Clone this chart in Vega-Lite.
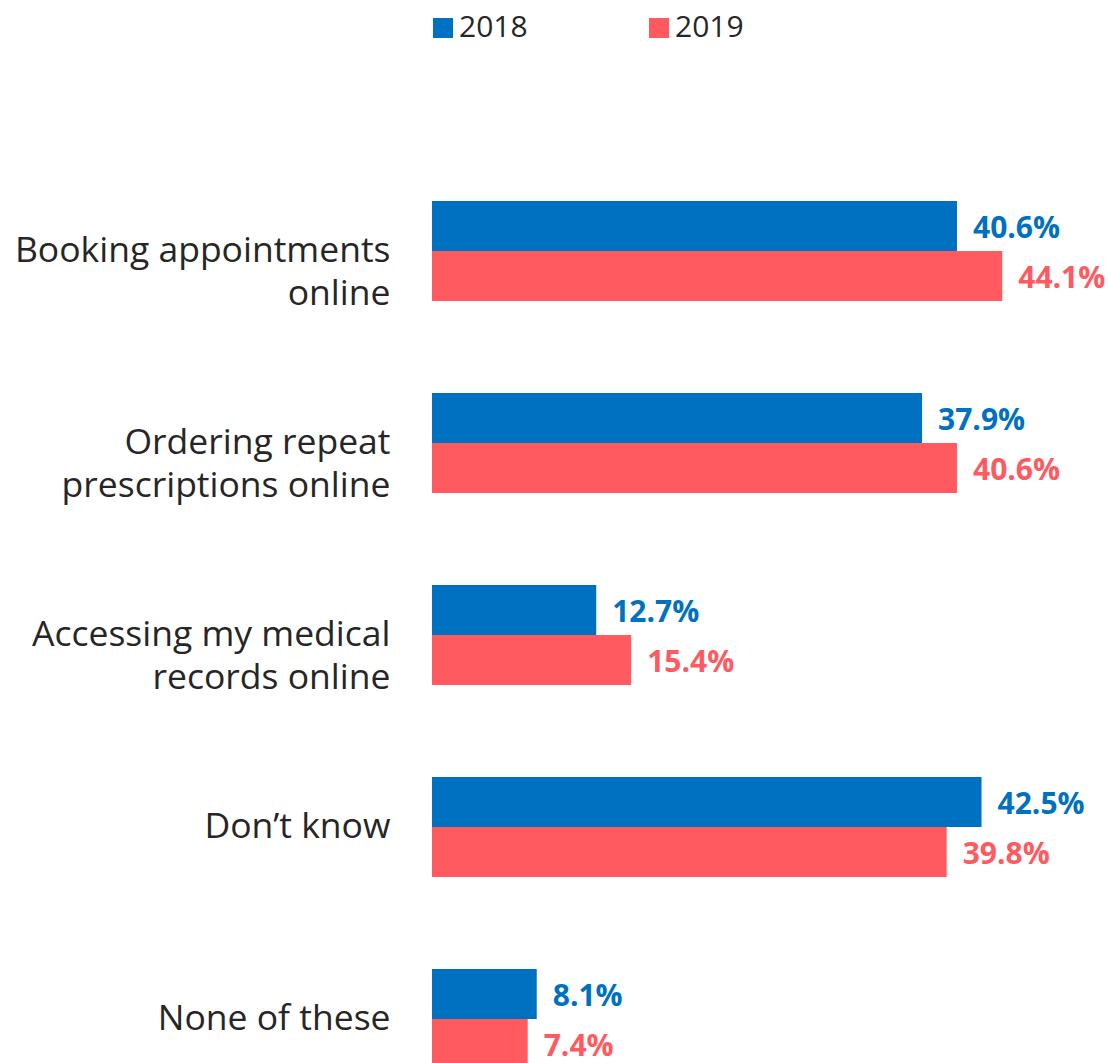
{
  "$schema": "https://vega.github.io/schema/vega-lite/v6.json",
  "autosize": "none",
  "width": 676,
  "height": 908,
  "padding": {"left": 432, "top": 155, "right": 0, "bottom": 0},
  "config": {"view": {"stroke": null}, "font": "Open Sans"},
  "data": {"values": [
    {"cat": "Booking appointments|online", "year": "2018", "value": 0.406},
    {"cat": "Booking appointments|online", "year": "2019", "value": 0.441},
    {"cat": "Ordering repeat|prescriptions online", "year": "2018", "value": 0.379},
    {"cat": "Ordering repeat|prescriptions online", "year": "2019", "value": 0.406},
    {"cat": "Accessing my medical|records online", "year": "2018", "value": 0.127},
    {"cat": "Accessing my medical|records online", "year": "2019", "value": 0.154},
    {"cat": "Don’t know", "year": "2018", "value": 0.425},
    {"cat": "Don’t know", "year": "2019", "value": 0.398},
    {"cat": "None of these", "year": "2018", "value": 0.081},
    {"cat": "None of these", "year": "2019", "value": 0.074}
  ]},
  "encoding": {
    "y": {
      "field": "cat", "type": "nominal", "sort": null, "title": null,
      "scale": {"range": [0, 960], "paddingInner": 0.47917, "paddingOuter": 0.2396},
      "axis": {
        "labelExpr": "split(datum.label, '|')",
        "labelFontSize": 35.5, "labelColor": "#262626", "labelLineHeight": 43,
        "labelPadding": 42, "ticks": false, "domain": false, "labelLimit": 500
      }
    },
    "yOffset": {"field": "year", "type": "nominal", "sort": ["2018", "2019"], "scale": {"paddingInner": 0, "paddingOuter": 0}},
    "x": {"field": "value", "type": "quantitative", "scale": {"domain": [0, 0.5228], "nice": false}, "axis": null},
    "color": {
      "field": "year", "type": "nominal",
      "scale": {"domain": ["2018", "2019"], "range": ["#0070C0", "#FF5A5F"]},
      "legend": {
        "title": null, "orient": "none", "direction": "horizontal",
        "legendX": -4, "legendY": -142,
        "symbolType": "square", "symbolSize": 400, "symbolStrokeWidth": 0, "symbolOpacity": 1,
        "labelFontSize": 30, "labelColor": "#262626", "labelOffset": 1,
        "columnPadding": 116
      }
    }
  },
  "layer": [
    {"mark": {"type": "bar", "opacity": 1}},
    {
      "mark": {"type": "text", "align": "left", "baseline": "middle", "dx": 16, "dy": 3, "fontSize": 30, "fontWeight": "bold"},
      "encoding": {"text": {"field": "value", "type": "quantitative", "format": ".1%"}}
    }
  ]
}
